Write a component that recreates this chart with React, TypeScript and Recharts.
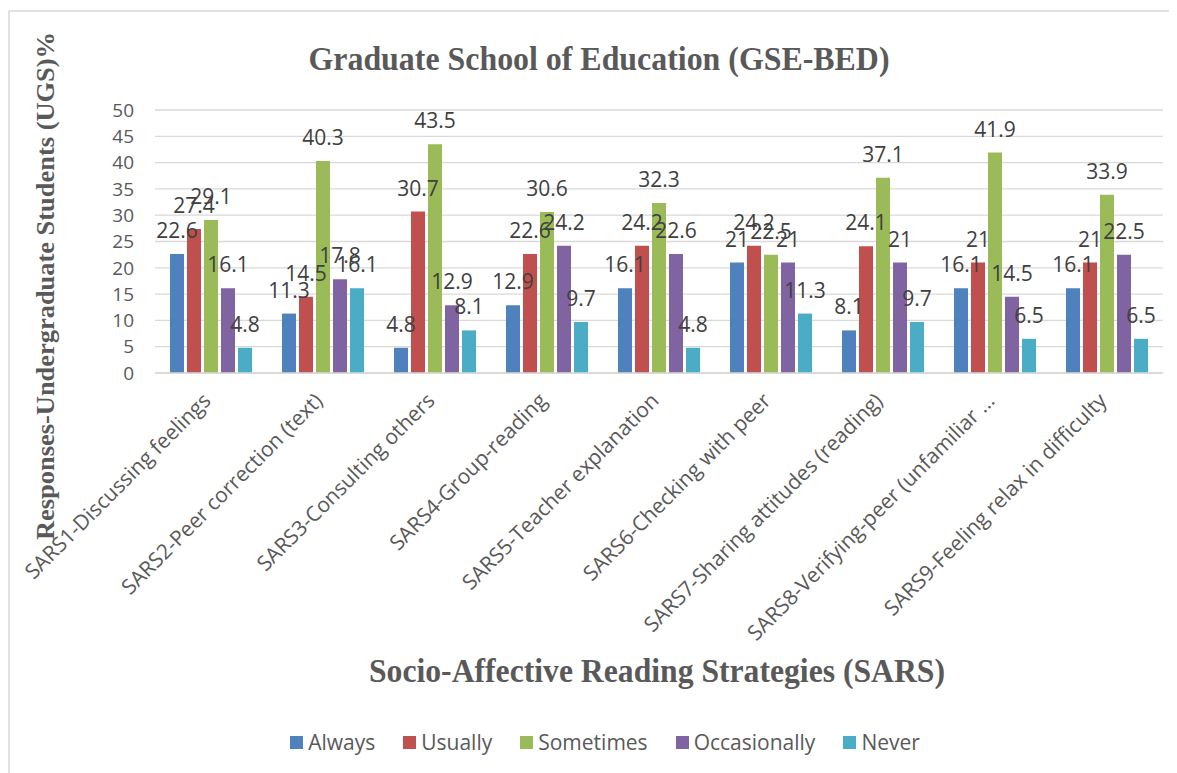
import { BarChart, Bar, XAxis, YAxis, CartesianGrid, Legend, LabelList } from 'recharts';

// ── Data ────────────────────────────────────────────────
const categories = [
  'SARS1-Discussing feelings',
  'SARS2-Peer correction (text)',
  'SARS3-Consulting others',
  'SARS4-Group-reading',
  'SARS5-Teacher explanation',
  'SARS6-Checking with peer',
  'SARS7-Sharing attitudes (reading)',
  'SARS8-Verifying-peer (unfamiliar ...',
  'SARS9-Feeling relax in difficulty',
];
const always = [22.6, 11.3, 4.8, 12.9, 16.1, 21, 8.1, 16.1, 16.1];
const usually = [27.4, 14.5, 30.7, 22.6, 24.2, 24.2, 24.1, 21, 21];
const sometimes = [29.1, 40.3, 43.5, 30.6, 32.3, 22.5, 37.1, 41.9, 33.9];
const occasionally = [16.1, 17.8, 12.9, 24.2, 22.6, 21, 21, 14.5, 22.5];
const never = [4.8, 16.1, 8.1, 9.7, 4.8, 11.3, 9.7, 6.5, 6.5];
const yTicks = [0, 5, 10, 15, 20, 25, 30, 35, 40, 45, 50];

const series = [
  { key: 'Always', values: always, color: '#4F81BD' },
  { key: 'Usually', values: usually, color: '#C0504D' },
  { key: 'Sometimes', values: sometimes, color: '#9BBB59' },
  { key: 'Occasionally', values: occasionally, color: '#8064A2' },
  { key: 'Never', values: never, color: '#4BACC6' },
];

const data = categories.map((name, i) => {
  const row: Record<string, string | number> = { name };
  series.forEach((s) => {
    row[s.key] = s.values[i];
  });
  return row;
});

const SANS = '"Open Sans", sans-serif';
const SERIF = '"Liberation Serif", "Times New Roman", serif';

// ── Pieces ──────────────────────────────────────────────
function CategoryTick({ x, y, payload }: { x: number; y: number; payload: { value: string } }) {
  return (
    <g transform={`translate(${x + 1},${y + 29})`}>
      <text textAnchor="end" transform="rotate(-45)" fontSize={21} fill="#595959" fontFamily={SANS}>
        {payload.value}
      </text>
    </g>
  );
}

// legend keeps the series order (Recharts would sort the payload otherwise)
function LegendContent() {
  return (
    <div
      style={{
        display: 'flex',
        justifyContent: 'center',
        gap: 28,
        fontFamily: SANS,
        fontSize: 21,
        color: '#595959',
      }}
    >
      {series.map((s) => (
        <div key={s.key} style={{ display: 'flex', alignItems: 'center' }}>
          <span style={{ width: 13, height: 13, background: s.color, display: 'inline-block', marginRight: 5 }} />
          <span>{s.key}</span>
        </div>
      ))}
    </div>
  );
}

// ── Component ───────────────────────────────────────────
export default function App() {
  return (
    <BarChart
      width={1169}
      height={765}
      data={data}
      margin={{ top: 102, right: 14, bottom: 100, left: 77 }}
      barSize={14}
      barGap={3}
    >
      <line x1={1} y1={3} x2={1} y2={765} stroke="#d9d9d9" strokeWidth={1.5} />
      <line x1={1} y1={3} x2={1169} y2={3} stroke="#d9d9d9" strokeWidth={1.5} />
      <text
        x={591}
        y={50}
        textAnchor="middle"
        dominantBaseline="central"
        fontFamily={SERIF}
        fontWeight="bold"
        fontSize={34}
        fill="#595959"
        textLength={581}
        lengthAdjust="spacingAndGlyphs"
      >
        Graduate School of Education (GSE-BED)
      </text>
      <text
        x={649}
        y={662}
        textAnchor="middle"
        dominantBaseline="central"
        fontFamily={SERIF}
        fontWeight="bold"
        fontSize={34}
        fill="#595959"
        textLength={576}
        lengthAdjust="spacingAndGlyphs"
      >
        Socio-Affective Reading Strategies (SARS)
      </text>
      <text
        x={37}
        y={278}
        transform="rotate(-90 37 278)"
        textAnchor="middle"
        dominantBaseline="central"
        fontFamily={SERIF}
        fontWeight="bold"
        fontSize={26}
        fill="#595959"
        textLength={508}
        lengthAdjust="spacingAndGlyphs"
      >
        Responses-Undergraduate Students (UGS)%
      </text>
      <CartesianGrid vertical={false} stroke="#d9d9d9" strokeWidth={1.3} />
      <XAxis
        dataKey="name"
        interval={0}
        height={300}
        tickSize={0}
        tickMargin={0}
        tickLine={false}
        axisLine={{ stroke: '#d9d9d9', strokeWidth: 1.5 }}
        tick={CategoryTick}
      />
      <YAxis
        domain={[0, 50]}
        ticks={yTicks}
        interval={0}
        width={70}
        tickSize={0}
        tickMargin={21}
        tickLine={false}
        axisLine={false}
        tick={{ fill: '#595959', fontSize: 19, fontFamily: SANS }}
      />
      <Legend
        layout="horizontal"
        verticalAlign="middle"
        align="center"
        content={LegendContent}
        wrapperStyle={{ top: 720, left: 97, width: 1000 }}
      />
      {series.map((s) => (
        <Bar key={s.key} dataKey={s.key} fill={s.color} isAnimationActive={false}>
          <LabelList
            dataKey={s.key}
            position="top"
            offset={16}
            fill="#404040"
            fontSize={21}
            fontFamily={SANS}
          />
        </Bar>
      ))}
    </BarChart>
  );
}
